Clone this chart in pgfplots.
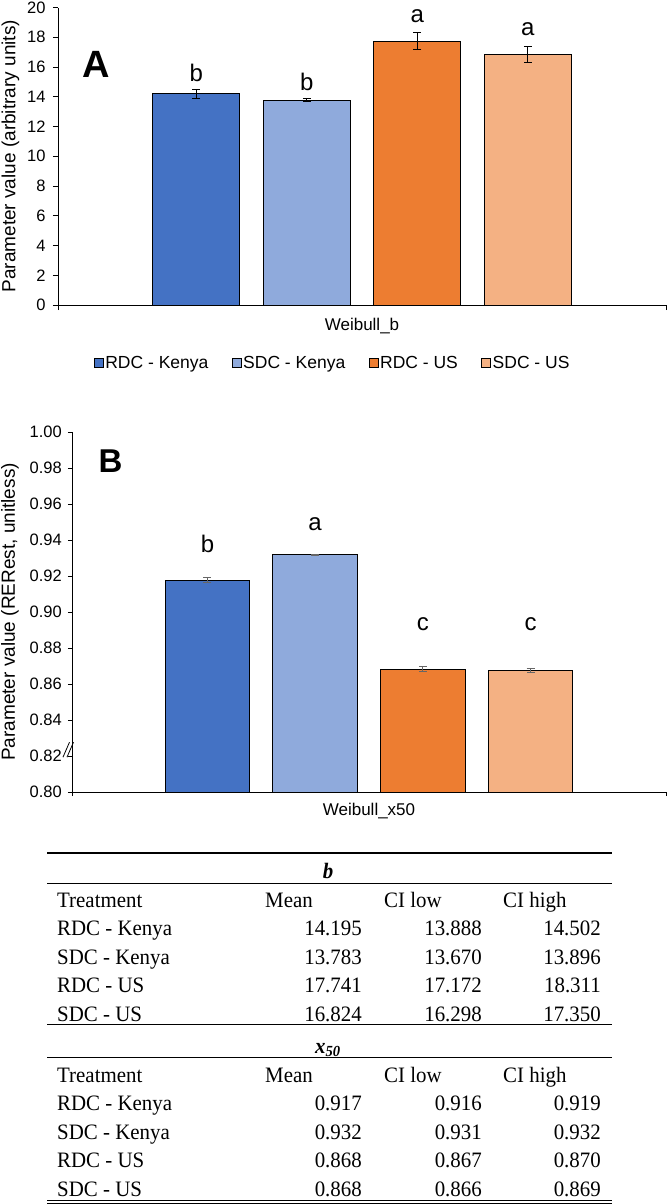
\documentclass[border=0pt]{standalone}
\usepackage{pgfplots}
\pgfplotsset{compat=1.18}
\usepackage{fontspec}
\setmainfont{Liberation Sans}
\newfontfamily\tnr[FakeStretch=0.95]{Liberation Serif}
\definecolor{c1}{HTML}{4472C4}
\definecolor{c2}{HTML}{8FAADC}
\definecolor{c3}{HTML}{ED7D31}
\definecolor{c4}{HTML}{F4B183}
\newcommand{\fs}[1]{\fontsize{#1}{#1}\selectfont}

\pgfplotsset{
  mybars/.style={
    scale only axis,
    axis lines=left,
    axis line style={-, line width=0.8pt, black},
    ybar,
    /pgf/bar shift=0pt,
    tick align=outside,
    tick style={black, line width=0.8pt},
    xticklabels={},
    ytick pos=left, xtick pos=bottom,
    tick label style={font=\fs{16.5}},
    /pgf/number format/assume math mode=true,
    label style={font=\fs{19}},
    clip mode=individual,
  },
  sq/.style={legend image code/.code={\draw[##1, line width=0.8pt] (0pt,-4.5pt) rectangle (9pt,4.5pt);}},
  errs/.style={/pgfplots/error bars/y dir=both, /pgfplots/error bars/y explicit,
    /pgfplots/error bars/error bar style={line width=0.9pt, #1},
    /pgfplots/error bars/error mark options={rotate=90, mark size=4pt, line width=0.9pt, #1}},
  lett/.style 2 args={nodes near coords={#1}, every node near coord/.append style={font=\fs{24}, anchor=center, yshift=#2, black}},
}

\begin{document}
\begin{tikzpicture}
\useasboundingbox (0pt,-1204pt) rectangle (667pt,0pt);

% ---------------- Panel A ----------------
\begin{axis}[mybars,
  at={(58pt,-305pt)}, anchor=south west, width=608pt, height=297.5pt,
  xmin=-0.251, xmax=5.251, ymin=0, ymax=20,
  ytick={0,2,4,6,8,10,12,14,16,18,20}, xtick={-0.251,5.251},
  major tick length=5pt,
  bar width=0.787,
  xlabel={Weibull\_b}, xlabel style={at={(axis description cs:0.5,0)}, anchor=center, yshift=-21pt, font=\fs{17}},
  ylabel={Parameter value (arbitrary units)}, ylabel style={at={(axis description cs:-0.0781,0.5)}, anchor=center},
  yticklabel style={xshift=-4pt},
  legend columns=4,
  legend style={draw=none, fill=none, at={(axis description cs:0.4515,-0.195)}, anchor=center,
    font=\fs{17.5}, inner sep=0pt, nodes={inner sep=1.5pt},
    /tikz/every even column/.append style={column sep=22pt}},
]
\addplot[fill=c1, draw=black, line width=0.9pt, sq, lett={b}{21pt}, errs=black] coordinates {(1,14.195) += (0,0.307) -= (0,0.307)};
\addlegendentry{RDC - Kenya}
\addplot[fill=c2, draw=black, line width=0.9pt, sq, lett={b}{18pt}, errs=black] coordinates {(2,13.783) += (0,0.113) -= (0,0.113)};
\addlegendentry{SDC - Kenya}
\addplot[fill=c3, draw=black, line width=0.9pt, sq, lett={a}{25pt}, errs=black] coordinates {(3,17.741) += (0,0.570) -= (0,0.569)};
\addlegendentry{RDC - US}
\addplot[fill=c4, draw=black, line width=0.9pt, sq, lett={a}{25.5pt}, errs=black] coordinates {(4,16.824) += (0,0.526) -= (0,0.526)};
\addlegendentry{SDC - US}
\end{axis}
\node[font=\fs{38}\bfseries, inner sep=0pt, anchor=center] at (96.5pt,-64pt) {A};

% ---------------- Panel B ----------------
\begin{axis}[mybars,
  at={(72pt,-792pt)}, anchor=south west, width=594pt, height=360pt,
  xmin=-0.258, xmax=5.258, ymin=0.80, ymax=1.00,
  ytick={0.80,0.82,0.84,0.86,0.88,0.90,0.92,0.94,0.96,0.98,1.00}, xtick={-0.258,5.258},
  major tick length=4pt,
  bar width=0.785,
  xlabel={Weibull\_x50}, xlabel style={at={(axis description cs:0.5,0)}, anchor=center, yshift=-19pt, font=\fs{17}},
  ylabel={Parameter value (RERest, unitless)}, ylabel style={at={(axis description cs:-0.1044,0.5)}, anchor=center},
  yticklabel style={xshift=-2.7pt, /pgf/number format/fixed, /pgf/number format/fixed zerofill, /pgf/number format/precision=2},
]
\addplot[fill=c1, draw=black, line width=0.9pt, lett={b}{37pt}, errs=black!60] coordinates {(1,0.9175) += (0,0.0015) -= (0,0.0012)};
\addplot[fill=c2, draw=black, line width=0.9pt, lett={a}{31pt}, errs=black!60] coordinates {(2,0.9317) += (0,0.0004) -= (0,0.0004)};
\addplot[fill=c3, draw=black, line width=0.9pt, lett={c}{45pt}, errs=black!60] coordinates {(3,0.8683) += (0,0.0013) -= (0,0.0013)};
\addplot[fill=c4, draw=black, line width=0.9pt, lett={c}{46pt}, errs=black!60] coordinates {(4,0.8675) += (0,0.0013) -= (0,0.0013)};
\draw[black, line width=0.8pt] (rel axis cs:0,0.119) ++(-9pt,-8pt) -- ++(6.5pt,15pt);
\draw[black, line width=0.8pt] (rel axis cs:0,0.119) ++(-5pt,-8pt) -- ++(6.5pt,15pt);
\end{axis}
\node[font=\fs{33}\bfseries, inner sep=0pt, anchor=center] at (110.5pt,-461.5pt) {B};

% ---------------- Table ----------------
\begin{scope}[every node/.style={inner sep=0pt, font=\tnr\fs{22}}]
\newcommand{\trow}[5]{%
  \node[anchor=base west] at (57pt,#1) {#2};
  \node[anchor=base east] at (362pt,#1) {#3};
  \node[anchor=base east] at (482pt,#1) {#4};
  \node[anchor=base east] at (601pt,#1) {#5};}
\newcommand{\thead}[1]{%
  \node[anchor=base west] at (57pt,#1) {Treatment};
  \node[anchor=base west] at (265pt,#1) {Mean};
  \node[anchor=base west] at (384pt,#1) {CI low};
  \node[anchor=base west] at (503pt,#1) {CI high};}
\draw[line width=1.1pt] (47pt,-853pt) -- (612pt,-853pt);
\node[anchor=base] at (328pt,-878pt) {\bfseries\itshape b};
\draw[line width=1pt] (47pt,-883pt) -- (612pt,-883pt);
\thead{-907.5pt}
\trow{-935.5pt}{RDC - Kenya}{14.195}{13.888}{14.502}
\trow{-964pt}{SDC - Kenya}{13.783}{13.670}{13.896}
\trow{-992.5pt}{RDC - US}{17.741}{17.172}{18.311}
\trow{-1021pt}{SDC - US}{16.824}{16.298}{17.350}
\draw[line width=1pt] (47pt,-1024.3pt) -- (612pt,-1024.3pt);
\node[anchor=base] at (328pt,-1053pt) {\bfseries\itshape x\textsubscript{50}};
\draw[line width=1pt] (47pt,-1057.3pt) -- (612pt,-1057.3pt);
\thead{-1082.5pt}
\trow{-1110.5pt}{RDC - Kenya}{0.917}{0.916}{0.919}
\trow{-1139pt}{SDC - Kenya}{0.932}{0.931}{0.932}
\trow{-1167.5pt}{RDC - US}{0.868}{0.867}{0.870}
\trow{-1196pt}{SDC - US}{0.868}{0.866}{0.869}
\draw[line width=0.9pt] (47pt,-1200.8pt) -- (612pt,-1200.8pt);
\draw[line width=0.9pt] (47pt,-1203.4pt) -- (612pt,-1203.4pt);
\end{scope}
\end{tikzpicture}
\end{document}
